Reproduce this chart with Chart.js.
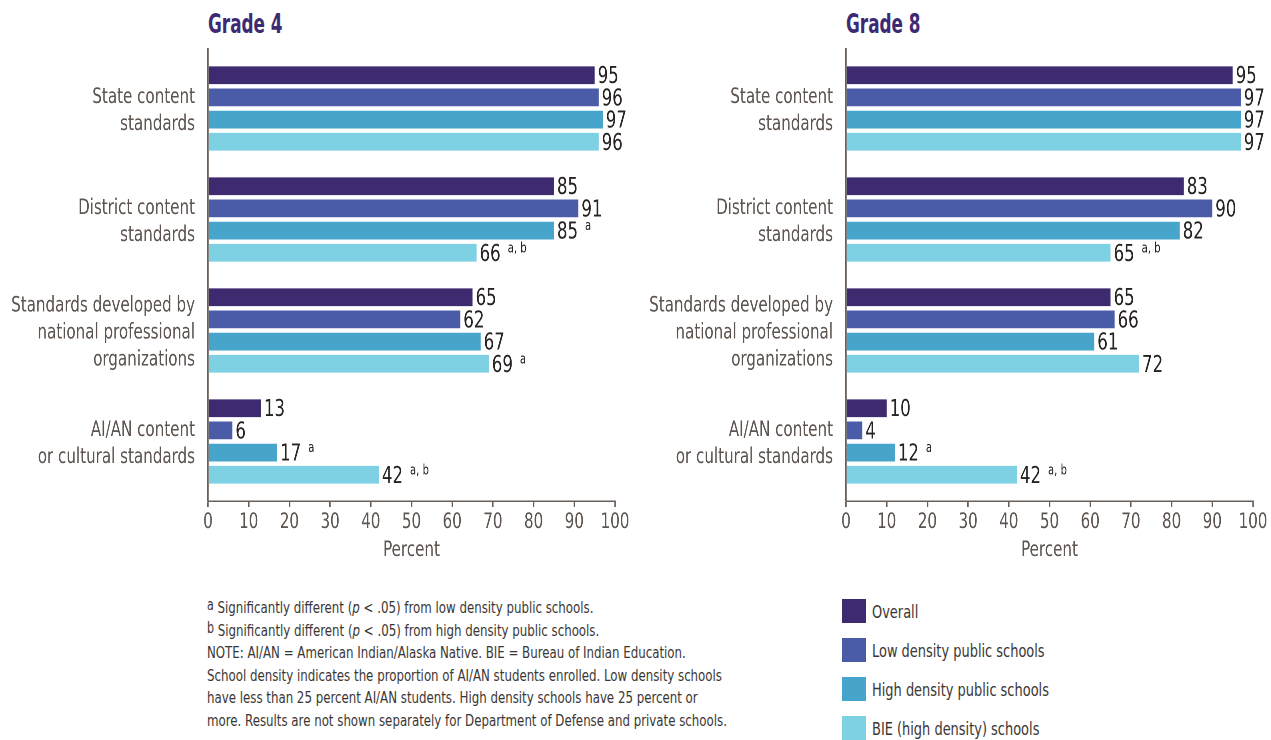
<!DOCTYPE html>
<html>
<head>
<meta charset="utf-8">
<script src="https://cdn.jsdelivr.net/npm/chart.js@4.4.1/dist/chart.umd.min.js"></script>
<style>
  body { margin: 0; background: #fff; width: 1271px; height: 740px; position: relative; overflow: hidden;
         font-family: "DejaVu Sans Condensed", "DejaVu Sans", sans-serif; }
  /* canvases are laid out wider and squeezed to get the narrow look of the original type */
  .box { position: absolute; top: 0; width: 800px; height: 563px; transform: scaleX(0.8); transform-origin: 0 0; }
  .title { position: absolute; top: 11px; font-weight: bold; font-size: 26px; line-height: 1; color: #3d2a73;
           transform: scaleX(0.72); transform-origin: 0 0; }
  .notes { position: absolute; left: 207px; top: 597px; font-size: 16px; line-height: 22.6px; color: #3a3634;
           white-space: nowrap; transform: scaleX(0.82); transform-origin: 0 0; }
  .notes sup { font-size: 15px; vertical-align: 3px; line-height: 0; }
  .legend { position: absolute; left: 842px; top: 599px; }
  .legend .item { height: 24px; margin-bottom: 15px; display: flex; align-items: center; font-size: 18px; color: #3a3634; }
  .legend .sw { width: 24px; height: 24px; margin-right: 6px; flex: none; }
  .legend span { display: inline-block; white-space: nowrap; transform: scaleX(0.8); transform-origin: 0 50%; }
</style>
</head>
<body>
<div class="title" style="left:208px">Grade 4</div>
<div class="title" style="left:846px">Grade 8</div>
<div class="box" style="left:0"><canvas id="grade4"></canvas></div>
<div class="box" style="left:638px"><canvas id="grade8"></canvas></div>

<div class="notes">
  <div><sup>a</sup> Significantly different (<i>p</i> &lt; .05) from low density public schools.</div>
  <div><sup>b</sup> Significantly different (<i>p</i> &lt; .05) from high density public schools.</div>
  <div>NOTE: AI/AN = American Indian/Alaska Native. BIE = Bureau of Indian Education.</div>
  <div>School density indicates the proportion of AI/AN students enrolled. Low density schools</div>
  <div>have less than 25 percent AI/AN students. High density schools have 25 percent or</div>
  <div>more. Results are not shown separately for Department of Defense and private schools.</div>
</div>
<div class="legend" id="legend"></div>

<script>
// Data
const categories = [
    ['State content', 'standards'],
    ['District content', 'standards'],
    ['Standards developed by', 'national professional', 'organizations'],
    ['AI/AN content', 'or cultural standards']
];
const seriesNames = ['Overall', 'Low density public schools', 'High density public schools', 'BIE (high density) schools'];
const percentTicks = [0, 10, 20, 30, 40, 50, 60, 70, 80, 90, 100];

const grade4Overall = [95, 85, 65, 13];
const grade4Low = [96, 91, 62, 6];
const grade4High = [97, 85, 67, 17];
const grade4Bie = [96, 66, 69, 42];
const grade4HighNotes = ['', 'a', '', 'a'];
const grade4BieNotes = ['', 'a, b', 'a', 'a, b'];

const grade8Overall = [95, 83, 65, 10];
const grade8Low = [97, 90, 66, 4];
const grade8High = [97, 82, 61, 12];
const grade8Bie = [97, 65, 72, 42];
const grade8HighNotes = ['', '', '', 'a'];
const grade8BieNotes = ['', 'a, b', '', 'a, b'];

const noNotes = ['', '', '', ''];
const seriesColors = ['#3e2a6e', '#4a5ca8', '#47a4cb', '#7ed1e2'];
const axisColor = '#6b6059';
const labelColor = '#5e5550';
const FONT = '"DejaVu Sans Condensed", "DejaVu Sans", sans-serif';
const SX = 0.8; // horizontal squeeze of the chart boxes

// Legend
const legend = document.getElementById('legend');
seriesNames.forEach((name, i) => {
    const item = document.createElement('div');
    item.className = 'item';
    item.innerHTML = '<div class="sw" style="background:' + seriesColors[i] + '"></div><span>' + name + '</span>';
    legend.appendChild(item);
});

// Value labels with significance notes
const valueLabels = {
    id: 'valueLabels',
    afterDatasetsDraw(chart) {
        const ctx = chart.ctx;
        ctx.save();
        ctx.textBaseline = 'middle';
        ctx.textAlign = 'left';
        chart.data.datasets.forEach((ds, i) => {
            chart.getDatasetMeta(i).data.forEach((bar, j) => {
                const txt = String(ds.data[j].x);
                ctx.font = '23px ' + FONT;
                ctx.fillStyle = '#262322';
                const x = bar.x + 3 / SX;
                ctx.fillText(txt, x, bar.y + 2);
                const note = ds.notes[j];
                if (note) {
                    const w = ctx.measureText(txt).width;
                    ctx.font = '14px ' + FONT;
                    ctx.fillText(note, x + w + 7 / SX, bar.y - 4);
                }
            });
        });
        ctx.restore();
    }
};

function makeChart(id, seriesValues, seriesNotes) {
    new Chart(document.getElementById(id), {
        type: 'bar',
        data: {
            datasets: seriesValues.map((vals, i) => ({
                label: seriesNames[i],
                data: vals.map((v, j) => ({ x: v, y: j })),
                notes: seriesNotes[i],
                backgroundColor: seriesColors[i],
                categoryPercentage: 0.8,
                barPercentage: 0.8
            }))
        },
        options: {
            indexAxis: 'y',
            responsive: true,
            maintainAspectRatio: false,
            animation: false,
            devicePixelRatio: 2,
            layout: { padding: { left: 0, top: 49, right: 800 - 615 / SX, bottom: 0 } },
            plugins: { legend: { display: false }, tooltip: { enabled: false } },
            scales: {
                y: {
                    type: 'linear',
                    offset: false,
                    reverse: true,
                    min: -0.536,
                    max: 3.536,
                    afterBuildTicks: s => { s.ticks = categories.map((c, i) => ({ value: i })); },
                    afterFit: s => { s.width = 208 / SX; },
                    grid: { display: false, drawTicks: false },
                    border: { color: axisColor, width: 1.5 / SX },
                    ticks: {
                        callback: v => categories[v],
                        padding: 13 / SX,
                        labelOffset: 2.5,
                        color: labelColor,
                        font: { family: FONT, size: 21, lineHeight: 1.28 }
                    }
                },
                x: {
                    min: 0,
                    max: 100,
                    afterBuildTicks: s => { s.ticks = percentTicks.map(v => ({ value: v })); },
                    afterFit: s => { s.height = 62; },
                    grid: { drawOnChartArea: false, drawTicks: true, tickLength: 6, color: axisColor, lineWidth: 1.5 / SX },
                    border: { color: axisColor, width: 1.5 },
                    ticks: {
                        padding: 3,
                        maxRotation: 0,
                        autoSkip: false,
                        color: labelColor,
                        font: { family: FONT, size: 21 }
                    },
                    title: {
                        display: true,
                        text: 'Percent',
                        color: labelColor,
                        padding: 0,
                        font: { family: FONT, size: 21 }
                    }
                }
            }
        },
        plugins: [valueLabels]
    });
}

makeChart('grade4',
    [grade4Overall, grade4Low, grade4High, grade4Bie],
    [noNotes, noNotes, grade4HighNotes, grade4BieNotes]);
makeChart('grade8',
    [grade8Overall, grade8Low, grade8High, grade8Bie],
    [noNotes, noNotes, grade8HighNotes, grade8BieNotes]);
</script>
</body>
</html>
